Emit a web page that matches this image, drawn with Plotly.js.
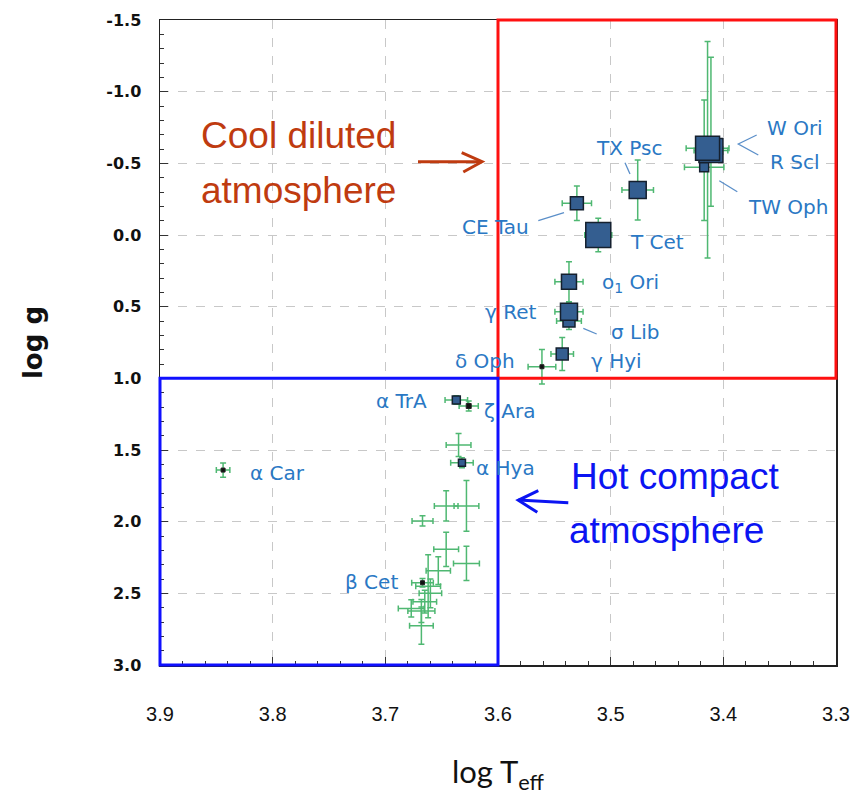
<!DOCTYPE html>
<html><head><meta charset="utf-8">
<script src="https://cdn.plot.ly/plotly-3.0.1.min.js"></script>
<style>html,body{margin:0;padding:0;background:#fff}#chart{width:863px;height:802px}</style>
</head><body><div id="chart"></div>
<script>
// ---- Named stars (drawn behind-to-front) ----
const starNames   = ['R Scl','W Ori','TW Oph','TX Psc','CE Tau','T Cet','ο1 Ori','σ Lib','γ Ret','γ Hyi','δ Oph','α TrA','ζ Ara','α Hya','α Car','β Cet'];
const starLogT    = [3.411, 3.414, 3.417, 3.476, 3.530, 3.511, 3.537, 3.537, 3.537, 3.543, 3.561, 3.637, 3.626, 3.632, 3.844, 3.667];
const starLogG    = [-0.59, -0.605, -0.472, -0.314, -0.221, 0.0, 0.326, 0.60, 0.535, 0.830, 0.919, 1.151, 1.193, 1.589, 1.640, 2.426];
const starErrT    = [0.015, 0.019, 0.0175, 0.014, 0.013, 0.012, 0.0125, 0.011, 0.0125, 0.010, 0.0123, 0.010, 0.0085, 0.010, 0.006, 0.0096];
const starErrGUp  = [0.65, 0.745, 0.47, 0.21, 0.12, 0.116, 0.14, 0.05, 0.06, 0.115, 0.12, 0.03, 0.035, 0.035, 0.05, 0.03];
const starErrGDn  = [0.39, 0.765, 0.37, 0.21, 0.12, 0.116, 0.14, 0.06, 0.06, 0.115, 0.12, 0.03, 0.035, 0.035, 0.05, 0.03];

// ---- Other (unlabelled) stars ----
const otherLogT   = [3.635, 3.646, 3.628, 3.667, 3.646, 3.628, 3.653, 3.662, 3.677, 3.668, 3.665, 3.668, 3.660];
const otherLogG   = [1.465, 1.890, 1.890, 1.995, 2.193, 2.291, 2.342, 2.450, 2.605, 2.623, 2.558, 2.726, 2.500];
const otherErrT   = [0.011, 0.0105, 0.011, 0.0093, 0.011, 0.0115, 0.0108, 0.011, 0.0115, 0.012, 0.0105, 0.0105, 0.010];
const otherErrG   = [0.08, 0.105, 0.177, 0.036, 0.12, 0.119, 0.097, 0.22, 0.06, 0.08, 0.08, 0.13, 0.10];

// ---- styles (not data) ----
const markerStyle = {
  'R Scl':[24,'square'], 'W Ori':[24,'square'], 'TW Oph':[9,'square'], 'TX Psc':[17,'square'],
  'CE Tau':[13,'square'], 'T Cet':[25,'square'], 'ο1 Ori':[15,'square'], 'σ Lib':[12,'square'],
  'γ Ret':[17,'square'], 'γ Hyi':[12,'square'], 'δ Oph':[4,'dot'], 'α TrA':[8,'square'],
  'ζ Ara':[5,'dot'], 'α Hya':[7,'square'], 'α Car':[4,'dot'], 'β Cet':[4,'dot']
};

// pixel -> data helpers for annotation placement only
const X = px => 3.9 - (px - 160) * 0.6 / 676;
const Y = py => -1.5 + (py - 20) * 4.5 / 645;

const green = '#4fb872';
const allT = starLogT.concat(otherLogT);
const allG = starLogG.concat(otherLogG);
const errTrace = {
  x: allT, y: allG, mode: 'markers', type: 'scatter', hoverinfo: 'skip', showlegend: false,
  marker: {size: 2, color: 'rgba(0,0,0,0)'},
  error_x: {type: 'data', array: starErrT.concat(otherErrT), color: green, thickness: 1.5, width: 3},
  error_y: {type: 'data', symmetric: false, array: starErrGDn.concat(otherErrG), arrayminus: starErrGUp.concat(otherErrG), color: green, thickness: 1.5, width: 3}
};

const sqIdx = starNames.map((n,i)=>i).filter(i => markerStyle[starNames[i]][1] === 'square');
const dotIdx = starNames.map((n,i)=>i).filter(i => markerStyle[starNames[i]][1] === 'dot');
const sqTrace = {
  x: sqIdx.map(i=>starLogT[i]), y: sqIdx.map(i=>starLogG[i]), text: sqIdx.map(i=>starNames[i]),
  mode: 'markers', type: 'scatter', showlegend: false, hoverinfo: 'text',
  marker: {symbol: 'square', size: sqIdx.map(i=>markerStyle[starNames[i]][0]), color: '#345e90', opacity: 1,
           line: {color: '#15202e', width: 1.5}}
};
const dotTrace = {
  x: dotIdx.map(i=>starLogT[i]), y: dotIdx.map(i=>starLogG[i]), text: dotIdx.map(i=>starNames[i]),
  mode: 'markers', type: 'scatter', showlegend: false, hoverinfo: 'text',
  marker: {symbol: 'square', size: dotIdx.map(i=>markerStyle[starNames[i]][0]), color: '#111', opacity: 1,
           line: {color: '#222', width: 1}}
};

// labels: [text, pixel x centre, pixel y centre]
const labelPos = [
  ['W Ori',795,128], ['R Scl',795,162], ['TW Oph',788,207], ['TX Psc',629,148],
  ['CE Tau',495,227], ['T Cet',657,242], ['ο<sub>1</sub> Ori',630,283], ['γ Ret',510,312],
  ['σ Lib',635,332], ['δ Oph',485,361], ['γ Hyi',616,361], ['α TrA',401,401],
  ['ζ Ara',509,411], ['α Hya',505,468], ['α Car',277,473], ['β Cet',371,582]
];
const labelColor = '#2a78c4';
const annotations = labelPos.map(l => ({
  x: X(l[1]), y: Y(l[2]), xref: 'x', yref: 'y', text: l[0], showarrow: false,
  xanchor: 'center', yanchor: 'middle',
  font: {family: 'DejaVu Sans', size: 20, color: labelColor}
}));
const coolColor = '#bf3b10', hotColor = '#0b14f2';
[['Cool diluted',199,135,coolColor],['atmosphere',199,190,coolColor],
 ['Hot compact',569,476,hotColor],['atmosphere',567,530,hotColor]].forEach(t => {
  annotations.push({x: X(t[1]), y: Y(t[2]), xref:'x', yref:'y', text: t[0], showarrow:false,
    xanchor:'left', yanchor:'middle', font:{family:'Liberation Sans, Arial', size:37, color:t[3]}});
});

const P = pts => 'M ' + pts.map(p => X(p[0]) + ',' + Y(p[1])).join(' L ');
const leader = {type:'path', xref:'x', yref:'y', line:{color:'#5b8fc9', width:1.3}};
const shapes = [
  {type:'rect', xref:'paper', yref:'paper', x0:0.5, x1:1, y0:(3-1)/4.5, y1:1, line:{color:'#ff1010', width:3}},
  {type:'rect', xref:'paper', yref:'paper', x0:0, x1:0.5, y0:0, y1:(3-1)/4.5, line:{color:'#1010ff', width:3}},
  Object.assign({path: P([[756.7,135],[738.3,144],[758.3,155]])}, leader),
  Object.assign({path: P([[719.3,180.7],[737.3,191.7]])}, leader),
  Object.assign({path: P([[625,162.7],[630,174]])}, leader),
  Object.assign({path: P([[538.3,220.7],[564,212.7]])}, leader),
  Object.assign({path: P([[583.3,328.3],[596.7,334]])}, leader),
  {type:'path', xref:'x', yref:'y', path: P([[418,161.7],[482,161.7]]), line:{color:coolColor, width:3}},
  {type:'path', xref:'x', yref:'y', path: P([[461.7,152.7],[482,161.7],[463.3,172]]), line:{color:coolColor, width:3}},
  {type:'path', xref:'x', yref:'y', path: P([[568.3,502.7],[518.3,500]]), line:{color:hotColor, width:3}},
  {type:'path', xref:'x', yref:'y', path: P([[538.3,490.7],[518.3,500.3],[537.3,512.3]]), line:{color:hotColor, width:3}}
];

const xTickVals = [3.9, 3.8, 3.7, 3.6, 3.5, 3.4, 3.3];
const xTickText = ['3.9','3.8','3.7','3.6','3.5','3.4','3.3'];
const yTickVals = [-1.5, -1.0, -0.5, 0.0, 0.5, 1.0, 1.5, 2.0, 2.5, 3.0];
const yTickText = ['-1.5','-1.0','-0.5','0.0','0.5','1.0','1.5','2.0','2.5','3.0'];

const axisCommon = {
  showline: true, linecolor: '#222', linewidth: 1.5, mirror: true,
  ticks: 'inside', ticklen: 8, tickwidth: 1, tickcolor: '#333',
  showgrid: true, gridcolor: '#c8c8c8', griddash: 'dash', gridwidth: 1, zeroline: false,
  tickmode: 'array'
};
const layout = {
  width: 863, height: 802, paper_bgcolor: '#fff', plot_bgcolor: '#fff',
  margin: {l: 160, r: 27, t: 20, b: 137},
  xaxis: Object.assign({}, axisCommon, {
    range: [3.9, 3.3], tickvals: xTickVals, ticktext: xTickText,
    minor: {tickmode: 'linear', tick0: 3.3, dtick: 0.02, ticks: 'inside', ticklen: 4, tickcolor: '#333', showgrid: false},
    tickfont: {family: 'Liberation Sans Narrow, Liberation Sans', size: 20, color: '#111'},
    ticklabelstandoff: 30,
    title: {text: 'log T<sub>eff</sub>', font: {family: 'Lato', size: 31, color: '#111'}, standoff: 38},
    automargin: true
  }),
  yaxis: Object.assign({}, axisCommon, {
    range: [3.0, -1.5], tickvals: yTickVals, ticktext: yTickText,
    minor: {tickmode: 'linear', tick0: 0, dtick: 0.1, ticks: 'inside', ticklen: 4, tickcolor: '#333', showgrid: false},
    tickfont: {family: 'DejaVu Sans', size: 16, color: '#111', weight: 'bold'},
    ticklabelstandoff: 14,
    title: {text: 'log g', font: {family: 'DejaVu Sans', size: 26, color: '#111', weight: 'bold'}, standoff: 56},
    automargin: true
  }),
  shapes: shapes, annotations: annotations, showlegend: false
};
Plotly.newPlot('chart', [errTrace, sqTrace, dotTrace], layout, {displayModeBar: false, staticPlot: true});
</script></body></html>
